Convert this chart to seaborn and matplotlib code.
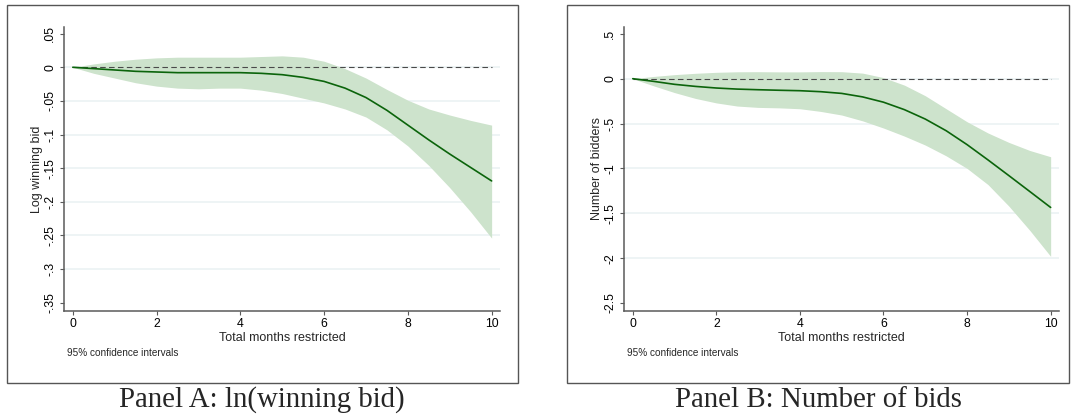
import numpy as np
import pandas as pd
import matplotlib
matplotlib.use("Agg")
import matplotlib.pyplot as plt
import seaborn as sns
from matplotlib.patches import Rectangle

# Months of restriction at which the estimated effect is evaluated
months = [0, 0.5, 1, 1.5, 2, 2.5, 3, 3.5, 4, 4.5, 5,
          5.5, 6, 6.5, 7, 7.5, 8, 8.5, 9, 9.5, 10]

# Panel A: log winning bid, point estimate and 95% CI
bid_est = [0, -0.002, -0.004, -0.006, -0.007, -0.008, -0.008, -0.008, -0.008, -0.009, -0.011,
           -0.015, -0.021, -0.031, -0.045, -0.064, -0.086, -0.108, -0.129, -0.149, -0.169]
bid_hi = [0, 0.005, 0.009, 0.012, 0.014, 0.015, 0.015, 0.015, 0.015, 0.016, 0.017,
          0.015, 0.009, -0.002, -0.016, -0.033, -0.049, -0.062, -0.071, -0.079, -0.086]
bid_lo = [0, -0.009, -0.016, -0.023, -0.028, -0.031, -0.032, -0.031, -0.031, -0.034, -0.039,
          -0.046, -0.053, -0.062, -0.074, -0.093, -0.117, -0.146, -0.179, -0.215, -0.254]

# Panel B: number of bidders, point estimate and 95% CI
nbid_est = [0, -0.030, -0.063, -0.086, -0.104, -0.116, -0.123, -0.129, -0.134, -0.145, -0.164,
            -0.203, -0.262, -0.345, -0.450, -0.580, -0.735, -0.905, -1.080, -1.257, -1.435]
nbid_hi = [0, 0.025, 0.045, 0.060, 0.071, 0.077, 0.078, 0.076, 0.076, 0.079, 0.078,
           0.062, 0.012, -0.072, -0.190, -0.335, -0.480, -0.605, -0.710, -0.800, -0.870]
nbid_lo = [0, -0.080, -0.155, -0.220, -0.270, -0.305, -0.320, -0.325, -0.335, -0.365, -0.405,
           -0.470, -0.550, -0.640, -0.740, -0.860, -1.000, -1.180, -1.420, -1.690, -1.980]

xticks = [0, 2, 4, 6, 8, 10]
bid_yticks = [0.05, 0, -0.05, -0.1, -0.15, -0.2, -0.25, -0.3, -0.35]
bid_ylabels = [".05", "0", "-.05", "-.1", "-.15", "-.2", "-.25", "-.3", "-.35"]
nbid_yticks = [0.5, 0, -0.5, -1, -1.5, -2, -2.5]
nbid_ylabels = [".5", "0", "-.5", "-1", "-1.5", "-2", "-2.5"]

LINE = "#0b640b"
BAND = "#cde3cc"
GRID = "#eaf1f2"
AXIS = "#5a5a5a"

sns.set_theme(style="white")
plt.rcParams["font.family"] = ["Liberation Sans", "DejaVu Sans"]

W, H = 1072, 418
fig = plt.figure(figsize=(W / 100, H / 100), dpi=100)


def panel(rect, est, lo, hi, yticks, ylabels, ylim, ylabel):
    ax = fig.add_axes(rect)
    df = pd.DataFrame({"months": months, "est": est, "lo": lo, "hi": hi})
    for t in yticks[1:-1]:
        ax.axhline(t, color=GRID, lw=1.1, zorder=0)
    ax.fill_between(df["months"], df["lo"], df["hi"], color=BAND, lw=0, zorder=1)
    ax.hlines(0, months[0], months[-1], colors="#4a4a4a", lw=0.8,
              linestyles=(0, (5, 3)), zorder=2)
    sns.lineplot(data=df, x="months", y="est", color=LINE, lw=1.2, ax=ax, zorder=3)

    ax.set_xlim(-0.21, 10.2)
    ax.set_ylim(*ylim)
    ax.set_xticks(xticks)
    ax.set_xticklabels([str(v) for v in xticks])
    ax.set_yticks(yticks)
    ax.set_yticklabels(ylabels, rotation=90, va="center")
    ax.tick_params(axis="both", direction="out", length=3.2, width=0.8,
                   color=AXIS, labelsize=8.8, labelcolor="black")
    ax.tick_params(axis="x", pad=1.5)
    ax.tick_params(axis="y", pad=2.5)
    ax.tick_params(left=True, bottom=True)
    for s in ("top", "right"):
        ax.spines[s].set_visible(False)
    for s in ("left", "bottom"):
        ax.spines[s].set_color(AXIS)
        ax.spines[s].set_linewidth(1.1)
    ax.set_xlabel("Total months restricted", fontsize=9, labelpad=2)
    ax.set_ylabel(ylabel, fontsize=9, labelpad=0.8)
    ax.grid(False)
    ax.set_facecolor("white")
    ax.text(0.007, -0.148, "95% confidence intervals", transform=ax.transAxes,
            fontsize=7.2, ha="left", va="center")
    return ax


axA = panel([64 / W, 107 / H, 436 / W, 284 / H], bid_est, bid_lo, bid_hi,
            bid_yticks, bid_ylabels, (-0.3624, 0.0599), "Log winning bid")
axB = panel([624 / W, 107 / H, 435 / W, 284 / H], nbid_est, nbid_lo, nbid_hi,
            nbid_yticks, nbid_ylabels, (-2.589, 0.576), "Number of bidders")

# Outer frames around each graph
for x0, x1 in [(7, 518), (566.5, 1069)]:
    fig.add_artist(Rectangle((x0 / W, 35 / H), (x1 - x0) / W, 378.5 / H,
                             transform=fig.transFigure, fill=False,
                             ec="#555555", lw=1.0))

fig.text(262 / W, 1 - 400 / H, "Panel A: ln(winning bid)", ha="center", va="center",
         family=["Liberation Serif", "DejaVu Serif"], fontsize=20.8)
fig.text(818 / W, 1 - 400 / H, "Panel B: Number of bids", ha="center", va="center",
         family=["Liberation Serif", "DejaVu Serif"], fontsize=20.8)

fig.savefig("out.png", dpi=100, facecolor="white")
